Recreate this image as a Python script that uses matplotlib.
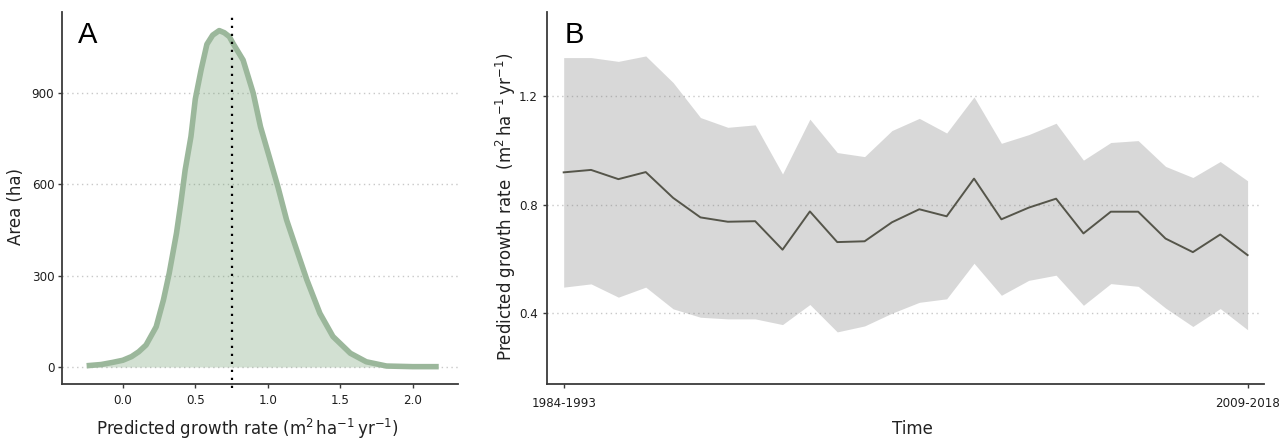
import matplotlib
matplotlib.use("Agg")
import matplotlib.pyplot as plt
from matplotlib.font_manager import FontProperties
import numpy as np

# Panel A: area by predicted growth rate
growth_rate = [-0.25, -0.15, -0.07, 0.00, 0.06, 0.11, 0.16, 0.23, 0.28, 0.32,
               0.37, 0.40, 0.43, 0.47, 0.50, 0.54, 0.58, 0.62, 0.665, 0.70,
               0.735, 0.76, 0.83, 0.90, 0.95, 1.01, 1.07, 1.13, 1.20, 1.27,
               1.36, 1.45, 1.57, 1.68, 1.82, 2.00, 2.18]
area_ha = [4, 8, 15, 22, 34, 50, 72, 132, 220, 308,
           439, 538, 647, 757, 880, 976, 1060, 1090, 1105, 1098,
           1085, 1063, 1008, 899, 789, 691, 592, 483, 384, 286,
           176, 100, 45, 17, 3, 1, 1]
mean_rate = 0.75
a_yticks = [0, 300, 600, 900]
a_xticks = [0.0, 0.5, 1.0, 1.5, 2.0]

# Panel B: predicted growth rate per 10-year window
periods = [f"{y}-{y + 9}" for y in range(1984, 2010)]
rate_mean = [0.919, 0.928, 0.894, 0.920, 0.825, 0.753, 0.737, 0.739, 0.634, 0.775,
             0.662, 0.665, 0.735, 0.783, 0.757, 0.896, 0.746, 0.789, 0.822, 0.694,
             0.774, 0.774, 0.675, 0.625, 0.690, 0.614]
rate_upper = [1.342, 1.342, 1.328, 1.348, 1.250, 1.121, 1.085, 1.094, 0.913, 1.115,
              0.992, 0.977, 1.073, 1.118, 1.064, 1.197, 1.026, 1.058, 1.100, 0.964,
              1.029, 1.036, 0.941, 0.900, 0.959, 0.888]
rate_lower = [0.496, 0.508, 0.459, 0.496, 0.416, 0.385, 0.379, 0.379, 0.358, 0.432,
              0.331, 0.353, 0.400, 0.440, 0.453, 0.584, 0.466, 0.521, 0.540, 0.429,
              0.509, 0.499, 0.419, 0.351, 0.417, 0.339]
b_yticks = [0.4, 0.8, 1.2]

plt.rcParams["font.family"] = ["DejaVu Sans"]
plt.rcParams["mathtext.fontset"] = "dejavusans"

TICK_FP = FontProperties(family=["DejaVu Sans"], size=8.6)
TICK_COLOR = "#1e1e1e"
SPINE = "#3a3a3a"
GRID = dict(color="#c8c8c8", linestyle=(0, (1, 2.5)), linewidth=1.0)
UNITS = r"$(\mathrm{m^2\,ha^{-1}\,yr^{-1}})$"
TITLE_SIZE = 12
TITLE_COLOR = "#222222"

fig = plt.figure(figsize=(12.84, 4.41), dpi=100)
W, H = 1284, 441
axA = fig.add_axes([62 / W, (H - 384) / H, 396 / W, 372 / H])
axB = fig.add_axes([547 / W, (H - 384) / H, 717 / W, 372 / H])


def style(ax, xpad, ypad):
    for s in ("top", "right"):
        ax.spines[s].set_visible(False)
    for s in ("left", "bottom"):
        ax.spines[s].set_color(SPINE)
        ax.spines[s].set_linewidth(1.3)
    ax.tick_params(length=3, width=1.0, color=SPINE)
    ax.tick_params(axis="y", pad=ypad)
    ax.tick_params(axis="x", pad=xpad)
    for lab in ax.get_xticklabels() + ax.get_yticklabels():
        lab.set_fontproperties(TICK_FP)
        lab.set_color(TICK_COLOR)


# ---- Panel A ----
for yv in a_yticks:
    axA.axhline(yv, zorder=0.5, **GRID)
axA.fill_between(growth_rate, 0, area_ha, color="#6b9a6b", alpha=0.3,
                 linewidth=0, zorder=1)
axA.plot(growth_rate, area_ha, color="#9bb79b", linewidth=4.0,
         solid_joinstyle="round", solid_capstyle="butt", zorder=2)
axA.axvline(mean_rate, color="black", linewidth=1.6,
            linestyle=(0, (1, 2.6)), zorder=3, clip_on=False,
            ymin=-0.01, ymax=1.0)
axA.set_xlim(-0.42, 2.313)
axA.set_ylim(-56, 1166)
axA.set_xticks(a_xticks)
axA.set_xticklabels([f"{v:.1f}" for v in a_xticks])
axA.set_yticks(a_yticks)
axA.set_yticklabels([str(v) for v in a_yticks])
style(axA, xpad=4.0, ypad=2.5)
axA.set_xlabel("Predicted growth rate " + UNITS, fontsize=TITLE_SIZE,
               color=TITLE_COLOR)
axA.xaxis.set_label_coords(0.467, -0.088)
axA.set_ylabel("Area (ha)", fontsize=TITLE_SIZE, color=TITLE_COLOR)
axA.yaxis.set_label_coords(-0.094, 0.478)
axA.text(0.04, 0.975, "A", transform=axA.transAxes, fontsize=21,
         family=["Liberation Sans", "DejaVu Sans"], va="top", ha="left")

# ---- Panel B ----
xpos = np.arange(len(periods))
for yv in b_yticks:
    axB.axhline(yv, xmax=0.994, zorder=0.5, **GRID)
axB.fill_between(xpos, rate_lower, rate_upper, color="#7f7f7f", alpha=0.3,
                 linewidth=0, zorder=1)
axB.plot(xpos, rate_mean, color="#55554a", linewidth=1.4, zorder=2)
axB.set_xlim(-0.61, len(periods) - 1 + 0.6)
axB.set_ylim(0.139, 1.51)
axB.set_xticks([xpos[0], xpos[-1]])
axB.set_xticklabels([periods[0], periods[-1]])
axB.set_yticks(b_yticks)
axB.set_yticklabels([f"{v:.1f}" for v in b_yticks])
style(axB, xpad=6.5, ypad=3.5)
axB.set_xlabel("Time", fontsize=TITLE_SIZE, color=TITLE_COLOR)
axB.xaxis.set_label_coords(0.509, -0.097)
axB.set_ylabel("Predicted growth rate  " + UNITS, fontsize=TITLE_SIZE,
               color=TITLE_COLOR)
axB.yaxis.set_label_coords(-0.040, 0.476)
axB.text(0.024, 0.975, "B", transform=axB.transAxes, fontsize=21,
         family=["Liberation Sans", "DejaVu Sans"], va="top", ha="left")

fig.savefig("out.png", dpi=100, facecolor="white")
